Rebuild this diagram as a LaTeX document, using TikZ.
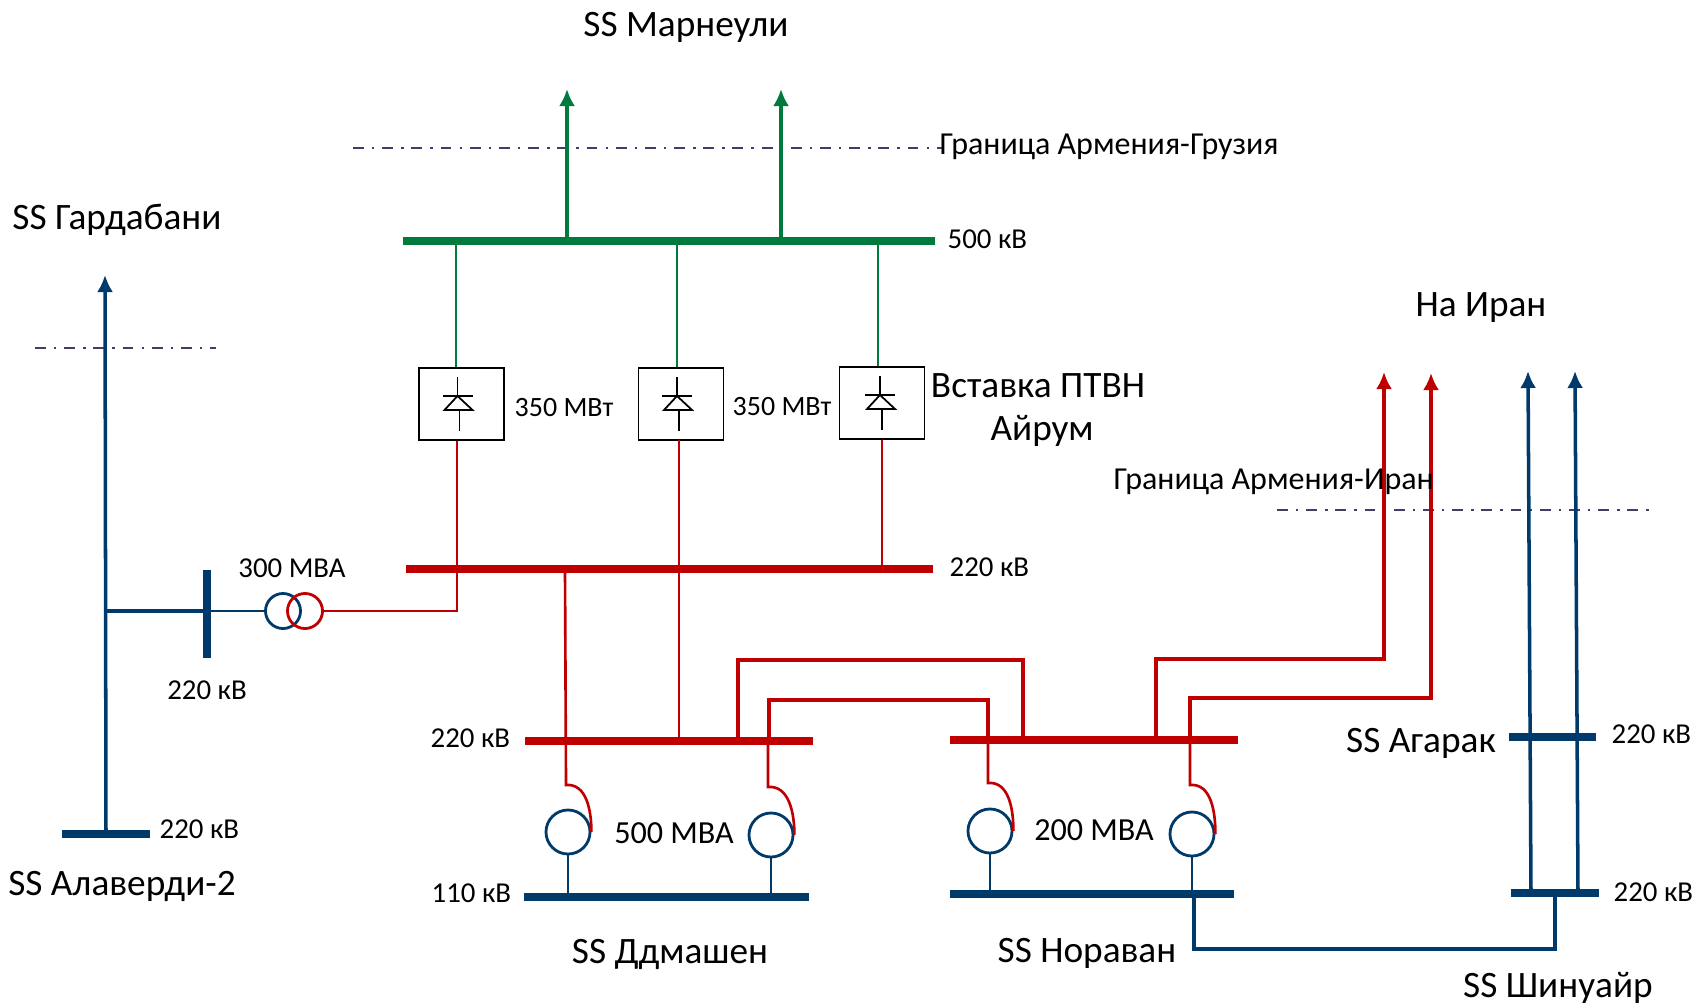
\documentclass[tikz,border=0pt]{standalone}
\usepackage{fontspec}
\setmainfont{Carlito}
\usetikzlibrary{arrows.meta,positioning}
\definecolor{busred}{HTML}{C00000}
\definecolor{busgreen}{HTML}{007A3D}
\definecolor{busblue}{HTML}{003A6A}
\definecolor{border}{HTML}{483A66}
\tikzset{
    bus/.style = {rectangle, fill, inner sep=0pt, minimum height=0.08cm},
    vsc/.style = {rectangle, draw=black, line width=0.5pt, inner sep=0pt, minimum width=0.85cm, minimum height=0.72cm},
    winding/.style = {circle, draw, line width=0.8pt, inner sep=0pt, minimum size=0.44cm},
    smallwinding/.style = {winding, minimum size=0.35cm},
    feeder/.style = {-{Latex[length=0.17cm,width=0.16cm]}, line width=1pt},
    tie/.style = {line width=1pt},
    drop/.style = {line width=0.75pt},
    borderline/.style = {border, line width=0.8pt, dash pattern=on 3.1pt off 2.3pt on 0.7pt off 2.2pt},
    lbl/.style = {inner sep=0pt, font=\fontsize{8.2}{10}\selectfont},
    pwrl/.style = {inner sep=0pt, font=\fontsize{7.95}{10}\selectfont},
    bordl/.style = {inner sep=0pt, font=\fontsize{9.1}{11}\selectfont},
    bigl/.style = {inner sep=0pt, font=\fontsize{10.6}{12.5}\selectfont},
    ratel/.style = {inner sep=0pt, font=\fontsize{9.15}{11}\selectfont}
}
\begin{document}
\begin{tikzpicture}[x=0.01cm,y=-0.01cm]
      \useasboundingbox (0,0) rectangle (1697,1003);
      % busbars
      \node[bus, busgreen, minimum width=5.31cm] (bus500) at (669,241) {};
      \node[bus, busred, minimum width=5.27cm] (bus220) at (669.5,569) {};
      \node[bus, busred, minimum width=2.88cm] (busD) at (669,741) {};
      \node[bus, busred, minimum width=2.88cm] (busN) at (1094,740) {};
      \node[bus, busblue, minimum width=2.84cm] (busDlow) at (666.5,897) {};
      \node[bus, busblue, minimum width=2.84cm] (busNlow) at (1092,894) {};
      \node[bus, busblue, minimum width=0.87cm] (busAg) at (1552.5,737) {};
      \node[bus, busblue, minimum width=0.88cm] (busSh) at (1555,893) {};
      \node[bus, busblue, minimum width=0.87cm] (busAl) at (106,834) {};
      \node[bus, busblue, minimum width=0.08cm, minimum height=0.88cm] (busT) at (207,614) {};
      % converters
      \node[vsc] (vsc1) at (461.5,404) {};
      \node[vsc] (vsc2) at (681,404) {};
      \node[vsc] (vsc3) at (882,403) {};
      \foreach \b/\dx in {vsc1/-2,vsc2/-2,vsc3/0}{
        \begin{scope}[shift={(\b.center)}, xshift=\dx*0.01cm, line width=0.5pt]
          \draw (-2,-27) -- (-2,-8);
          \draw (-17,-8) -- (13,-8);
          \draw (-2,-8) -- (-15,6) -- (13,6) -- cycle;
          \draw (0,6) -- (0,27);
        \end{scope}
      }
      % transformers
      \node[winding, busblue] (trD1) at (568,832) {};
      \node[winding, busblue] (trD2) at (771,835) {};
      \node[winding, busblue] (trN1) at (990,831) {};
      \node[winding, busblue] (trN2) at (1192,834) {};
      \node[smallwinding, busblue] (trAhv) at (283,611) {};
      \node[smallwinding, busred] (trAlv) at (305,611) {};
      % free ends and bends
      \coordinate (tipM1) at (567,89);
      \coordinate (tipM2) at (781,89);
      \coordinate (tipG) at (105,275);
      \coordinate (tipI1) at (1384,372);
      \coordinate (tipI2) at (1431,373);
      \coordinate (tipI3) at (1528,371);
      \coordinate (tipI4) at (1575,371);
      \coordinate (kneeA) at (457,611);
      \coordinate (kneeD1) at (566,785);
      \coordinate (kneeD2) at (768,787);
      \coordinate (kneeN1) at (988,783);
      \coordinate (kneeN2) at (1190,785);
      \coordinate (brG) at (105,611);
      \coordinate (lnk) at (1194,949);
      % borders
      \coordinate (bordA1) at (353,148);
      \coordinate (bordA2) at (942,148);
      \coordinate (bordB1) at (35,348);
      \coordinate (bordB2) at (216,348);
      \coordinate (bordC1) at (1277,510);
      \coordinate (bordC2) at (1653,510);
      \draw[borderline] (bordA1) -- (bordA2);
      \draw[borderline] (bordB1) -- (bordB2);
      \draw[borderline] (bordC1) -- (bordC2);
      % 500 kV side
      \draw[feeder, busgreen] (tipM1 |- bus500.center) -- (tipM1);
      \draw[feeder, busgreen] (tipM2 |- bus500.center) -- (tipM2);
      \draw[drop, busgreen] (vsc1.north -| 456,0) -- (456,241);
      \draw[drop, busgreen] (vsc2.north -| 677,0) -- (677,241);
      \draw[drop, busgreen] (vsc3.north -| 878,0) -- (878,241);
      % 220 kV side
      \draw[drop, busred] (kneeA |- vsc1.south) -- (kneeA) -- (trAlv.east);
      \draw[drop, busred] (679,440) -- (679,741);
      \draw[drop, busred] (vsc3.south) -- (vsc3.south |- bus220.center);
      \draw[drop, busred] (565,569) -- (kneeD1) to[out=5,in=90] (trD1.east);
      \draw[tie, busred] (738,741) -- (738,660) -- (1023,660) -- (1023,740);
      \draw[drop, busred] (768,741) -- (kneeD2) to[out=5,in=90] (trD2.east);
      \draw[tie, busred] (769,741) -- (769,700) -- (988,700) -- (988,740);
      \draw[drop, busred] (988,740) -- (kneeN1) to[out=5,in=90] (trN1.east);
      \draw[feeder, busred] (1156,740) -- (1156,659) -- (tipI1 |- 0,659) -- (tipI1);
      \draw[feeder, busred] (1190,740) -- (1190,698) -- (tipI2 |- 0,698) -- (tipI2);
      \draw[drop, busred] (1190,740) -- (kneeN2) to[out=5,in=90] (trN2.east);
      % 110 kV and 220 kV blue side
      \draw[drop, busblue] (trD1.south) -- (trD1.south |- busDlow.center);
      \draw[drop, busblue] (trD2.south) -- (trD2.south |- busDlow.center);
      \draw[drop, busblue] (trN1.south) -- (trN1.south |- busNlow.center);
      \draw[drop, busblue] (trN2.south) -- (trN2.south |- busNlow.center);
      \draw[tie, busblue] (lnk |- busNlow.center) -- (lnk) -- (busSh.center |- lnk) -- (busSh.center);
      \draw[feeder, busblue] (1531,893) -- (tipI3);
      \draw[feeder, busblue] (1578,893) -- (tipI4);
      \draw[feeder, busblue] (busAl.center) -- (tipG);
      \draw[tie, busblue] (brG) -- (brG -| busT.center);
      \draw[drop, busblue] (trAhv.west -| busT.center) -- (trAhv.west);
      % labels
      \node[bigl] (ttlM) at (686,27) {SS Марнеули};
      \node[bigl] (ttlG) at (117,220) {SS Гардабани};
      \node[bigl] (ttlAl) at (122,886) {SS Алаверди-2};
      \node[bigl] (ttlI) at (1481,308) {На Иран};
      \node[bigl] (ttlV) at (1038,386) {Вставка ПТВН};
      \node[bigl] (ttlV2) at (1042,431) {Айрум};
      \node[bigl] (ttlD) at (670,954) {SS Ддмашен};
      \node[bigl] (ttlN) at (1087,953) {SS Нораван};
      \node[bigl] (ttlS) at (1558,988) {SS Шинуайр};
      \node[bigl] (ttlAg) at (1421,743) {SS Агарак};
      \node[bordl, anchor=west] (bordTxtA) at (939,147) {Граница Армения-Грузия};
      \node[bordl, anchor=west] (bordTxtC) at (1113,482) {Граница Армения-Иран};
      \node[lbl, anchor=west] (v500) at (947,239) {500 кВ};
      \node[lbl, anchor=west] (v220a) at (949,567) {220 кВ};
      \node[pwrl, anchor=west] (p1) at (514,408) {350 МВт};
      \node[pwrl, anchor=west] (p2) at (732,407) {350 МВт};
      \node[lbl] (s300) at (292,568) {300 МВА};
      \node[lbl] (v220t) at (207,690) {220 кВ};
      \node[lbl, anchor=west] (v220al) at (159,829) {220 кВ};
      \node[lbl, anchor=west] (v220d) at (430,738) {220 кВ};
      \node[lbl, anchor=west] (v110d) at (431,893) {110 кВ};
      \node[ratel] (s500) at (674,833) {500 МВА};
      \node[ratel] (s200) at (1094,830) {200 МВА};
      \node[lbl, anchor=west] (v220ag) at (1611,734) {220 кВ};
      \node[lbl, anchor=west] (v220sh) at (1613,892) {220 кВ};
    \end{tikzpicture}
\end{document}
